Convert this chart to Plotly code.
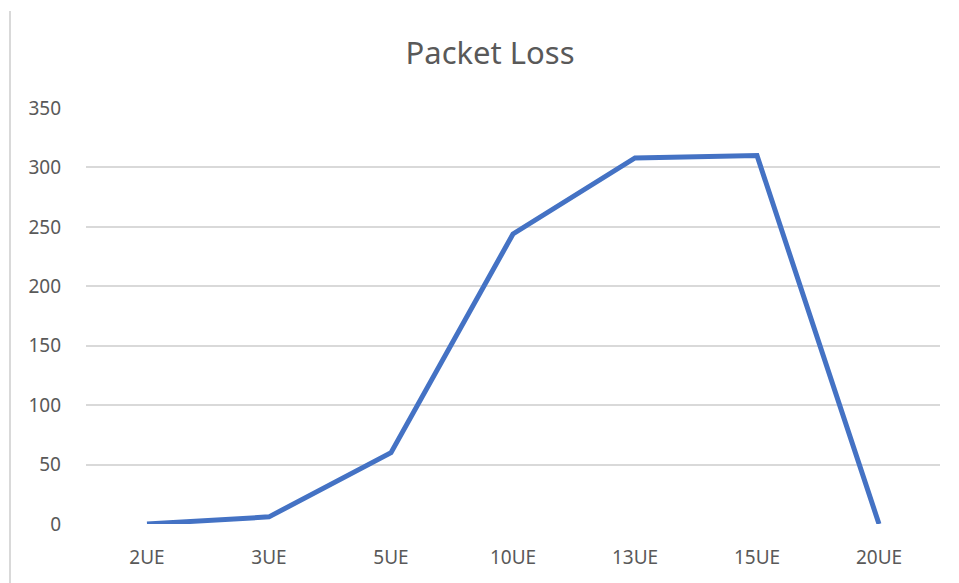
import plotly.graph_objects as go

categories = ["2UE", "3UE", "5UE", "10UE", "13UE", "15UE", "20UE"]
packet_loss = [0, 6, 60, 244, 308, 310, 0]
y_ticks = [0, 50, 100, 150, 200, 250, 300, 350]

# page body has an 8px margin, so the figure starts at (8, 8)
OFF = 8
W, H = 959 - OFF, 583 - OFF
L, R, T, B = 86 - OFF, W - (940 - OFF), 108 - OFF, H - (524 - OFF)
plot_w = W - L - R
plot_h = H - T - B

fig = go.Figure()
fig.add_trace(go.Scatter(
    x=categories, y=packet_loss, mode="lines",
    line=dict(color="#4472C4", width=5),
    hoverinfo="x+y", showlegend=False,
))

text_color = "#595959"
grid_color = "#D9D9D9"

fig.update_layout(
    width=W, height=H,
    margin=dict(l=L, r=R, t=T, b=B, autoexpand=False),
    paper_bgcolor="white", plot_bgcolor="white",
    font=dict(family="Noto Sans", color=text_color, size=19),
    title=dict(text="Packet Loss", x=(490 - OFF) / W, xanchor="center",
               y=1 - (53 - OFF) / H, yanchor="middle", yref="container",
               font=dict(size=31, color=text_color, family="Noto Sans")),
    xaxis=dict(type="category", range=[-0.5, 6.5], showgrid=False,
               showline=False, zeroline=False, ticks="",
               tickfont=dict(size=19, color=text_color),
               ticklabelstandoff=20),
    yaxis=dict(range=[0, 350], tickvals=y_ticks, showgrid=True,
               gridcolor=grid_color, gridwidth=1.5, zeroline=False,
               showline=False, ticks="",
               tickfont=dict(size=19, color=text_color),
               ticklabelstandoff=24),
    shapes=[dict(type="line", xref="paper", yref="paper",
                 x0=(2 - L) / plot_w, x1=(2 - L) / plot_w,
                 y0=(H - B - 3) / plot_h, y1=(H - B - H) / plot_h,
                 line=dict(color=grid_color, width=2))],
)

fig.write_html("out.html")
